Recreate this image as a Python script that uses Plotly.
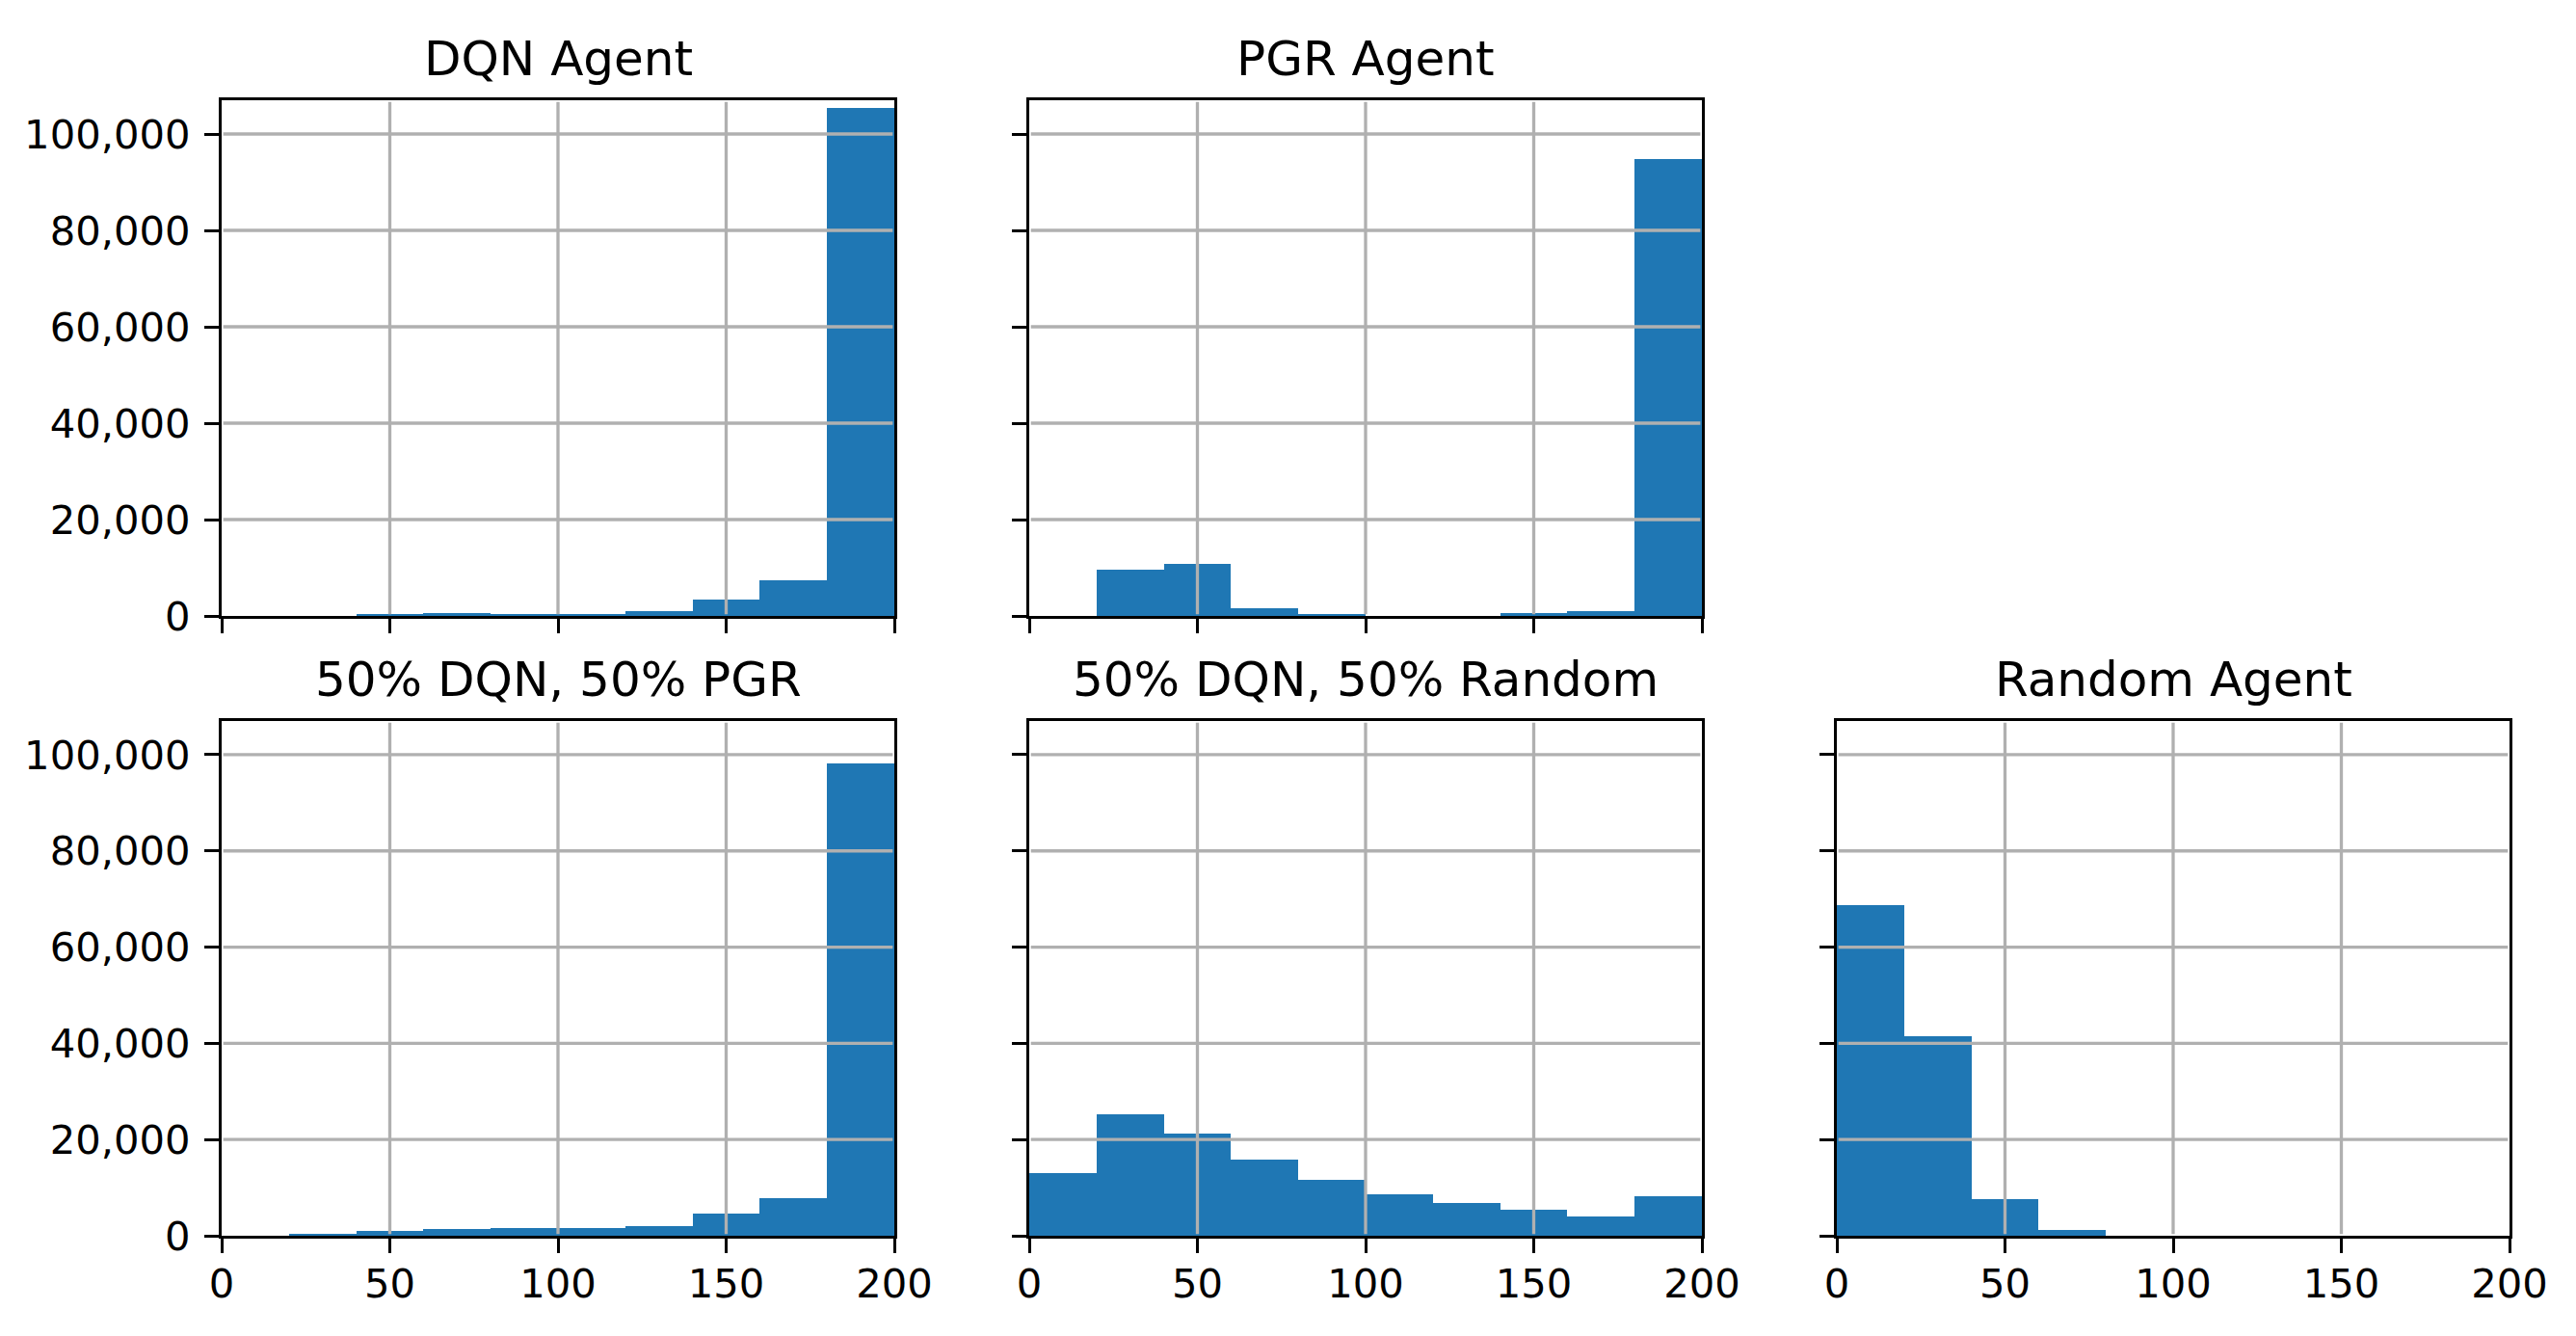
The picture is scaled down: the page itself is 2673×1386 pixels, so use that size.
import plotly.graph_objects as go

# ---------------- data ----------------
bin_edges = [0, 20, 40, 60, 80, 100, 120, 140, 160, 180, 200]
titles = ["DQN Agent", "PGR Agent", "50% DQN, 50% PGR", "50% DQN, 50% Random", "Random Agent"]
dqn_counts = [0, 0, 330, 600, 400, 400, 1070, 3330, 7320, 105400]
pgr_counts = [0, 9580, 10850, 1660, 400, 0, 0, 600, 1060, 94800]
dqn_pgr_counts = [0, 330, 930, 1330, 1530, 1530, 1930, 4600, 7900, 98100]
dqn_random_counts = [13040, 25200, 21280, 15740, 11550, 8650, 6820, 5400, 3920, 8240]
random_counts = [68740, 41470, 7600, 1200, 0, 0, 0, 0, 0, 0]
x_ticks = [0, 50, 100, 150, 200]
y_ticks = [0, 20000, 40000, 60000, 80000, 100000]
x_range = [0, 200]
y_range = [0, 107000]

series = [dqn_counts, pgr_counts, dqn_pgr_counts, dqn_random_counts, random_counts]

# ---------------- layout ----------------
W, H = 2673, 1386
col_px = [(230, 928), (1068, 1766), (1906, 2604)]
row_px = [(104, 639), (748, 1282)]
cells = [(0, 0), (0, 1), (1, 0), (1, 1), (1, 2)]

FONT = "DejaVu Sans"
TICK_SIZE = 41.7
TITLE_SIZE = 50
LW = 3.3
BLUE = "#1f77b4"
GRID = "#b0b0b0"

centers = [(a + b) / 2 for a, b in zip(bin_edges[:-1], bin_edges[1:])]
widths = [b - a for a, b in zip(bin_edges[:-1], bin_edges[1:])]

fig = go.Figure()
shapes = []
annotations = []
layout = {}

for i, ((r, c), counts, title) in enumerate(zip(cells, series, titles), start=1):
    sfx = "" if i == 1 else str(i)
    x0p, x1p = col_px[c]
    y0p, y1p = row_px[r]
    xdom = [x0p / W, x1p / W]
    ydom = [1 - y1p / H, 1 - y0p / H]

    fig.add_trace(go.Bar(
        x=centers, y=counts, width=widths,
        marker=dict(color=BLUE, line=dict(width=0)),
        xaxis="x" + sfx, yaxis="y" + sfx, showlegend=False,
    ))

    common = dict(
        ticks="outside", ticklen=15, tickwidth=LW, tickcolor="black",
        showline=True, linecolor="black", linewidth=LW, mirror=True,
        showgrid=False, zeroline=False, automargin=False,
        tickfont=dict(family=FONT, size=TICK_SIZE, color="black"),
        fixedrange=True,
    )
    layout["xaxis" + sfx] = dict(
        domain=xdom, range=x_range, tickmode="array", tickvals=x_ticks,
        showticklabels=(r == 1), anchor="y" + sfx, ticklabelstandoff=-4, **common,
    )
    layout["yaxis" + sfx] = dict(
        domain=ydom, range=y_range, tickmode="array", tickvals=y_ticks,
        tickformat=",", showticklabels=(c == 0), anchor="x" + sfx,
        ticklabelstandoff=6, **common,
    )

    # grid lines drawn above bars (as in matplotlib)
    ex = (LW / 2) / (x1p - x0p)
    ey = (LW / 2) / (y1p - y0p)
    for v in x_ticks:
        if x_range[0] < v < x_range[1]:
            shapes.append(dict(type="line", layer="above", xref="x" + sfx, yref="y" + sfx + " domain",
                               x0=v, x1=v, y0=ey, y1=1 - ey, line=dict(color=GRID, width=LW)))
    for v in y_ticks:
        if y_range[0] < v < y_range[1]:
            shapes.append(dict(type="line", layer="above", xref="x" + sfx + " domain", yref="y" + sfx,
                               x0=ex, x1=1 - ex, y0=v, y1=v, line=dict(color=GRID, width=LW)))

    annotations.append(dict(
        text=title, x=(xdom[0] + xdom[1]) / 2, y=ydom[1], xref="paper", yref="paper",
        xanchor="center", yanchor="bottom", yshift=12, showarrow=False,
        font=dict(family=FONT, size=TITLE_SIZE, color="black"),
    ))

fig.update_layout(
    template="none",
    width=W, height=H,
    margin=dict(l=0, r=0, t=0, b=0, autoexpand=False),
    paper_bgcolor="white", plot_bgcolor="white",
    bargap=0, barmode="overlay",
    shapes=shapes, annotations=annotations,
    **layout,
)

fig.write_html("out.html", config={"displayModeBar": False},
               post_script="document.body.style.margin='0';")
